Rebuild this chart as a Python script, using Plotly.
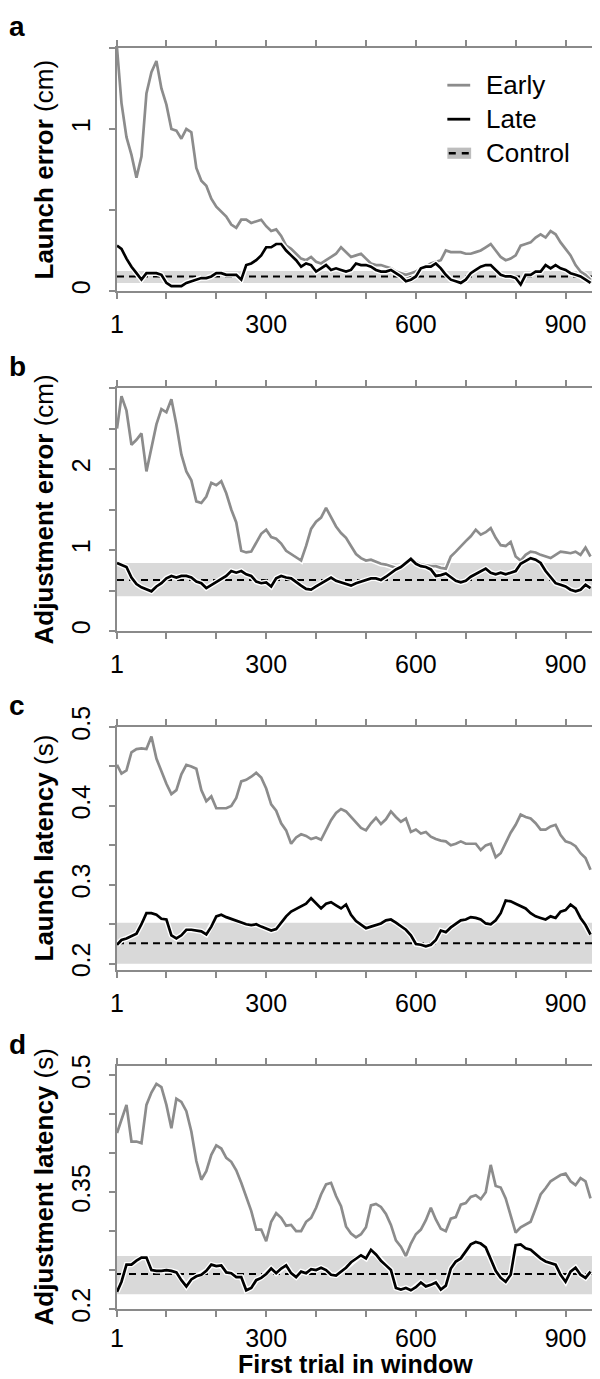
import plotly.graph_objects as go

# first trial of each sliding window (sampled every 10 trials)
trials = [1] + list(range(10, 951, 10))

launch_error_early = [
    1.50, 1.16, 0.95, 0.84, 0.70, 0.83, 1.22, 1.35, 1.42, 1.25,
    1.15, 1.00, 0.99, 0.94, 1.00, 0.98, 0.76, 0.68, 0.65, 0.57,
    0.52, 0.49, 0.46, 0.41, 0.39, 0.44, 0.44, 0.42, 0.43, 0.44,
    0.40, 0.37, 0.38, 0.34, 0.28, 0.26, 0.23, 0.20, 0.19, 0.21,
    0.18, 0.17, 0.19, 0.21, 0.23, 0.27, 0.24, 0.21, 0.22, 0.23,
    0.20, 0.17, 0.16, 0.16, 0.15, 0.14, 0.12, 0.11, 0.10, 0.11,
    0.12, 0.14, 0.15, 0.17, 0.18, 0.19, 0.25, 0.24, 0.24, 0.24,
    0.23, 0.23, 0.24, 0.25, 0.27, 0.29, 0.25, 0.21, 0.19, 0.20,
    0.22, 0.28, 0.29, 0.30, 0.33, 0.35, 0.33, 0.37, 0.35, 0.30,
    0.26, 0.22, 0.16, 0.12, 0.10, 0.07,
]
launch_error_late = [
    0.28, 0.26, 0.20, 0.15, 0.11, 0.07, 0.11, 0.11, 0.11, 0.10,
    0.05, 0.03, 0.03, 0.03, 0.05, 0.06, 0.07, 0.08, 0.08, 0.09,
    0.11, 0.11, 0.10, 0.10, 0.10, 0.07, 0.16, 0.17, 0.19, 0.22,
    0.27, 0.27, 0.29, 0.29, 0.25, 0.22, 0.19, 0.15, 0.17, 0.16,
    0.12, 0.14, 0.16, 0.13, 0.14, 0.13, 0.12, 0.13, 0.17, 0.16,
    0.16, 0.15, 0.13, 0.12, 0.12, 0.13, 0.11, 0.09, 0.06, 0.07,
    0.09, 0.14, 0.15, 0.15, 0.17, 0.14, 0.10, 0.07, 0.06, 0.05,
    0.07, 0.11, 0.13, 0.15, 0.16, 0.16, 0.13, 0.10, 0.09, 0.09,
    0.08, 0.04, 0.10, 0.10, 0.12, 0.12, 0.16, 0.14, 0.16, 0.14,
    0.13, 0.11, 0.10, 0.09, 0.07, 0.05,
]
adjust_error_early = [
    2.50, 2.90, 2.72, 2.30, 2.36, 2.44, 1.97, 2.28, 2.55, 2.74,
    2.70, 2.86, 2.55, 2.18, 1.97, 1.86, 1.60, 1.58, 1.66, 1.83,
    1.80, 1.85, 1.70, 1.50, 1.34, 0.99, 0.97, 0.98, 1.09, 1.20,
    1.25, 1.16, 1.14, 1.08, 0.99, 0.95, 0.91, 0.87, 1.05, 1.26,
    1.35, 1.40, 1.52, 1.41, 1.29, 1.21, 1.15, 1.05, 0.95, 0.90,
    0.87, 0.88, 0.85, 0.83, 0.82, 0.80, 0.78, 0.80, 0.84, 0.88,
    0.85, 0.82, 0.81, 0.80, 0.80, 0.78, 0.77, 0.92, 0.98, 1.05,
    1.11, 1.17, 1.25, 1.19, 1.22, 1.27, 1.15, 1.06, 1.05, 1.10,
    0.92, 0.87, 0.94, 0.98, 0.97, 0.94, 0.92, 0.90, 0.94, 0.98,
    0.97, 0.96, 0.98, 0.94, 1.03, 0.92,
]
adjust_error_late = [
    0.84, 0.82, 0.79, 0.66, 0.58, 0.54, 0.51, 0.49, 0.55, 0.59,
    0.65, 0.68, 0.66, 0.68, 0.68, 0.66, 0.61, 0.59, 0.53, 0.57,
    0.61, 0.64, 0.68, 0.74, 0.72, 0.74, 0.70, 0.68, 0.61, 0.59,
    0.60, 0.55, 0.65, 0.68, 0.66, 0.65, 0.60, 0.56, 0.52, 0.51,
    0.55, 0.59, 0.63, 0.66, 0.62, 0.60, 0.58, 0.56, 0.59, 0.61,
    0.63, 0.65, 0.65, 0.63, 0.67, 0.72, 0.76, 0.79, 0.84, 0.89,
    0.83, 0.80, 0.79, 0.76, 0.68, 0.69, 0.71, 0.66, 0.62, 0.60,
    0.62, 0.67, 0.70, 0.73, 0.77, 0.72, 0.70, 0.72, 0.70, 0.72,
    0.74, 0.83, 0.86, 0.90, 0.88, 0.84, 0.74, 0.66, 0.59, 0.57,
    0.55, 0.51, 0.49, 0.51, 0.57, 0.53,
]
launch_latency_early = [
    0.452, 0.441, 0.445, 0.468, 0.472, 0.473, 0.472, 0.488, 0.460, 0.444,
    0.428, 0.415, 0.420, 0.440, 0.452, 0.450, 0.447, 0.420, 0.406, 0.412,
    0.397, 0.397, 0.397, 0.400, 0.410, 0.431, 0.433, 0.437, 0.442, 0.436,
    0.422, 0.402, 0.394, 0.378, 0.369, 0.352, 0.360, 0.364, 0.362, 0.358,
    0.360, 0.357, 0.370, 0.382, 0.391, 0.396, 0.393, 0.386, 0.379, 0.372,
    0.369, 0.378, 0.385, 0.377, 0.383, 0.393, 0.386, 0.380, 0.384, 0.367,
    0.370, 0.365, 0.367, 0.361, 0.358, 0.356, 0.355, 0.350, 0.352, 0.355,
    0.352, 0.352, 0.352, 0.344, 0.350, 0.352, 0.335, 0.340, 0.354, 0.366,
    0.376, 0.389, 0.386, 0.384, 0.378, 0.370, 0.370, 0.374, 0.376, 0.363,
    0.355, 0.353, 0.349, 0.340, 0.334, 0.319,
]
launch_latency_late = [
    0.224, 0.230, 0.232, 0.235, 0.238, 0.250, 0.264, 0.264, 0.262, 0.257,
    0.256, 0.236, 0.232, 0.236, 0.243, 0.243, 0.242, 0.241, 0.237, 0.247,
    0.260, 0.262, 0.259, 0.257, 0.255, 0.252, 0.250, 0.249, 0.250, 0.247,
    0.244, 0.242, 0.244, 0.252, 0.260, 0.266, 0.269, 0.272, 0.276, 0.283,
    0.276, 0.270, 0.276, 0.278, 0.274, 0.270, 0.275, 0.262, 0.254, 0.249,
    0.245, 0.247, 0.249, 0.251, 0.255, 0.256, 0.252, 0.248, 0.243, 0.236,
    0.225, 0.224, 0.222, 0.224, 0.230, 0.242, 0.240, 0.246, 0.250, 0.255,
    0.256, 0.259, 0.258, 0.256, 0.251, 0.250, 0.255, 0.264, 0.280, 0.279,
    0.276, 0.273, 0.270, 0.264, 0.260, 0.258, 0.256, 0.260, 0.258, 0.266,
    0.268, 0.275, 0.270, 0.258, 0.249, 0.237,
]
adjust_latency_early = [
    0.426, 0.442, 0.462, 0.415, 0.415, 0.413, 0.462, 0.478, 0.489, 0.485,
    0.462, 0.432, 0.470, 0.466, 0.454, 0.428, 0.390, 0.366, 0.377, 0.398,
    0.410, 0.406, 0.394, 0.389, 0.378, 0.362, 0.345, 0.326, 0.302, 0.302,
    0.287, 0.312, 0.323, 0.317, 0.307, 0.308, 0.300, 0.300, 0.312, 0.317,
    0.330, 0.347, 0.360, 0.362, 0.345, 0.332, 0.306, 0.297, 0.292, 0.296,
    0.305, 0.333, 0.335, 0.331, 0.322, 0.308, 0.288, 0.280, 0.268, 0.284,
    0.296, 0.302, 0.314, 0.330, 0.315, 0.303, 0.300, 0.316, 0.318, 0.334,
    0.336, 0.344, 0.346, 0.341, 0.350, 0.385, 0.358, 0.356, 0.342, 0.320,
    0.298, 0.305, 0.308, 0.312, 0.329, 0.347, 0.355, 0.364, 0.368, 0.372,
    0.374, 0.364, 0.359, 0.368, 0.364, 0.342,
]
adjust_latency_late = [
    0.222, 0.235, 0.257, 0.257, 0.262, 0.266, 0.266, 0.250, 0.249, 0.249,
    0.250, 0.249, 0.247, 0.237, 0.229, 0.238, 0.242, 0.244, 0.249, 0.257,
    0.255, 0.256, 0.247, 0.246, 0.241, 0.241, 0.224, 0.227, 0.237, 0.240,
    0.245, 0.252, 0.246, 0.252, 0.256, 0.246, 0.241, 0.248, 0.246, 0.251,
    0.250, 0.253, 0.250, 0.244, 0.243, 0.248, 0.253, 0.260, 0.265, 0.269,
    0.265, 0.276, 0.270, 0.262, 0.256, 0.250, 0.227, 0.225, 0.227, 0.224,
    0.228, 0.234, 0.229, 0.231, 0.234, 0.225, 0.230, 0.252, 0.261, 0.265,
    0.274, 0.283, 0.286, 0.284, 0.279, 0.264, 0.249, 0.240, 0.235, 0.244,
    0.282, 0.283, 0.278, 0.276, 0.270, 0.265, 0.261, 0.259, 0.257, 0.244,
    0.235, 0.248, 0.253, 0.244, 0.240, 0.248,
]

# control group: mean (dashed) and band
control_mean = [0.09, 0.63, 0.226, 0.245]
control_lo = [0.05, 0.43, 0.200, 0.219]
control_hi = [0.124, 0.84, 0.252, 0.268]

panel_letters = ["a", "b", "c", "d"]
ylabel_bold = ["Launch error", "Adjustment error", "Launch latency", "Adjustment latency"]
ylabel_unit = ["(cm)", "(cm)", "(s)", "(s)"]
y_ranges = [[0, 1.5], [0, 3], [0.192, 0.5], [0.2, 0.512]]
y_tickvals = [
    [0, 0.5, 1, 1.5],
    [0, 0.5, 1, 1.5, 2, 2.5, 3],
    [0.2, 0.25, 0.3, 0.35, 0.4, 0.45, 0.5],
    [0.2, 0.25, 0.3, 0.35, 0.4, 0.45, 0.5],
]
y_ticktext = [
    ["0", "", "1", ""],
    ["0", "", "1", "", "2", "", ""],
    ["0.2", "", "0.3", "", "0.4", "", "0.5"],
    ["0.2", "", "", "0.35", "", "", "0.5"],
]
x_tickvals = [1, 100, 200, 300, 400, 500, 600, 700, 800, 900]
x_ticktext = ["1", "", "", "300", "", "", "600", "", "", "900"]

early_series = [launch_error_early, adjust_error_early, launch_latency_early, adjust_latency_early]
late_series = [launch_error_late, adjust_error_late, launch_latency_late, adjust_latency_late]

GRAY_AX = "#8a8a8a"
EARLY = "#8c8c8c"
BAND = "#d9d9d9"
FONT = "Liberation Sans, Arial, Helvetica, sans-serif"

W, H = 600, 1379
M_T, M_B, M_L, M_R = 40, 78, 109, 7
panel_top = [40, 380, 719, 1058]
panel_h = 243
paper_h = H - M_T - M_B


def domain(top):
    bottom_px = H - M_B
    return [(bottom_px - top - panel_h) / paper_h, (bottom_px - top) / paper_h]


fig = go.Figure()
shapes = []
annotations = []

for i in range(4):
    n = "" if i == 0 else str(i + 1)
    xa, ya = "x" + n, "y" + n
    for ys, col in [(early_series[i], EARLY), (late_series[i], "black")]:
        fig.add_trace(go.Scatter(x=trials, y=ys, mode="lines", xaxis=xa, yaxis=ya,
                                 line=dict(color="white", width=5.4), hoverinfo="skip",
                                 showlegend=False))
        fig.add_trace(go.Scatter(x=trials, y=ys, mode="lines", xaxis=xa, yaxis=ya,
                                 line=dict(color=col, width=2.7), showlegend=False))

    shapes.append(dict(type="rect", xref=xa + " domain", yref=ya, x0=0, x1=1,
                       y0=control_lo[i], y1=control_hi[i], fillcolor=BAND,
                       line=dict(width=0), layer="below"))
    shapes.append(dict(type="line", xref=xa + " domain", yref=ya, x0=0, x1=1,
                       y0=control_mean[i], y1=control_mean[i],
                       line=dict(color="black", width=2, dash="7px,5px"), layer="below"))

    axis_common = dict(showline=True, linecolor=GRAY_AX, linewidth=2, mirror="ticks",
                       ticks="outside", ticklen=6, tickwidth=2, tickcolor=GRAY_AX,
                       showgrid=False, zeroline=False,
                       tickfont=dict(family=FONT, size=25, color="black"))
    fig.layout["xaxis" + n] = dict(axis_common, domain=[0, 1], anchor=ya, range=[1, 955],
                                    tickmode="array", tickvals=x_tickvals, ticktext=x_ticktext,
                                    ticklabelstandoff=4 if i < 3 else 0)
    fig.layout["yaxis" + n] = dict(axis_common, domain=domain(panel_top[i]), anchor=xa,
                                    range=y_ranges[i], tickmode="array",
                                    tickvals=y_tickvals[i], ticktext=y_ticktext[i],
                                    tickangle=-90, ticklabelstandoff=9)

    annotations.append(dict(text="<b>%s</b> %s" % (ylabel_bold[i], ylabel_unit[i]),
                            xref="paper", x=0, xshift=-74, xanchor="center",
                            yref=ya + " domain", y=0.5, yanchor="middle", textangle=-90,
                            showarrow=False, font=dict(family=FONT, size=26, color="black")))
    annotations.append(dict(text="<b>%s</b>" % panel_letters[i], xref="paper", x=0,
                            xshift=-100, xanchor="center", yref=ya + " domain", y=1,
                            yshift=39, yanchor="top", showarrow=False,
                            font=dict(family=FONT, size=28, color="black")))

annotations.append(dict(text="<b>First trial in window</b>", xref="x4 domain", x=0.5,
                        xanchor="center", yref="paper", y=0, yshift=-71, yanchor="bottom",
                        showarrow=False, font=dict(family=FONT, size=25, color="black")))

# legend drawn inside panel a
leg_y = [0.847, 0.707, 0.567]
leg_names = ["Early", "Late", "Control"]
shapes.append(dict(type="line", xref="x domain", yref="y domain", x0=0.694, x1=0.742,
                   y0=leg_y[0], y1=leg_y[0], line=dict(color=EARLY, width=2.8)))
shapes.append(dict(type="line", xref="x domain", yref="y domain", x0=0.694, x1=0.742,
                   y0=leg_y[1], y1=leg_y[1], line=dict(color="black", width=2.8)))
shapes.append(dict(type="rect", xref="x domain", yref="y domain", x0=0.694, x1=0.744,
                   y0=leg_y[2] - 0.023, y1=leg_y[2] + 0.023, fillcolor="#bdbdbd",
                   line=dict(width=0)))
shapes.append(dict(type="line", xref="x domain", yref="y domain", x0=0.697, x1=0.744,
                   y0=leg_y[2], y1=leg_y[2],
                   line=dict(color="black", width=2.4, dash="7px,6px")))
for name, yy in zip(leg_names, leg_y):
    annotations.append(dict(text=name, xref="x domain", x=0.771, xanchor="left",
                            yref="y domain", y=yy, yanchor="middle", showarrow=False,
                            font=dict(family=FONT, size=26, color="black")))

fig.update_layout(width=W, height=H, margin=dict(l=M_L, r=M_R, t=M_T, b=M_B),
                  plot_bgcolor="white", paper_bgcolor="white",
                  shapes=shapes, annotations=annotations, showlegend=False)

fig.write_html("out.html")
